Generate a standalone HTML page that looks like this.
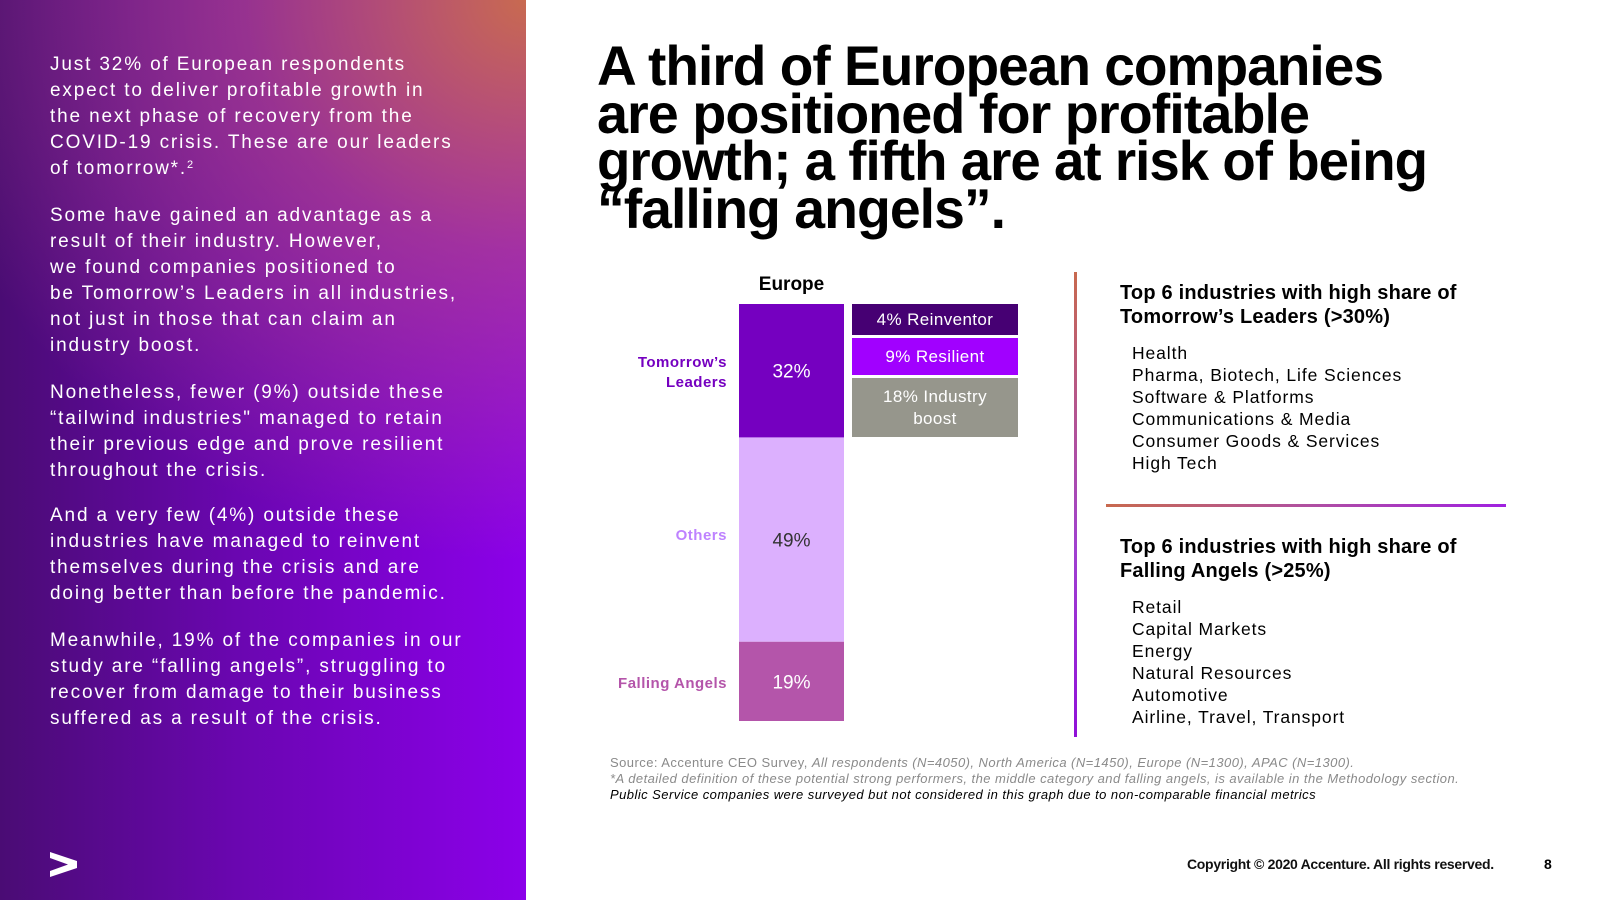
<!DOCTYPE html>
<html><head><meta charset="utf-8">
<style>
*{margin:0;padding:0;box-sizing:border-box}
body{width:1600px;height:900px;position:relative;overflow:hidden;background:#fff;font-family:"Liberation Sans",sans-serif}
#panel{position:absolute;left:0;top:0;width:526px;height:900px;
background:radial-gradient(ellipse 620px 560px at 100% 0%,rgba(200,106,80,1) 0%,rgba(180,80,120,0.6) 45%,rgba(160,40,200,0) 100%),
linear-gradient(to right,#4a0c74 0%,#6a06b0 45%,#8c00ea 100%);}
.lt{position:absolute;left:50px;color:#fff;font-size:19px;letter-spacing:1.85px;line-height:26px;z-index:2;white-space:nowrap}
.lt sup{font-size:11px;line-height:0;vertical-align:6px}
.title{position:absolute;left:597px;font-weight:bold;font-size:56px;color:#000;white-space:nowrap;transform-origin:left center;line-height:56px;letter-spacing:-1px}
.abs{position:absolute;white-space:nowrap}
.lbl{position:absolute;right:873px;font-weight:bold;font-size:15px;text-align:right;line-height:20px;letter-spacing:0.5px}
.box{position:absolute;left:852px;width:166px;color:#fff;font-size:17px;text-align:center;display:flex;align-items:center;justify-content:center;line-height:22px;letter-spacing:0.4px}
.hd{position:absolute;left:1120px;font-weight:bold;font-size:20px;line-height:24px;letter-spacing:0.2px}
.li{position:absolute;left:1132px;font-size:17.5px;line-height:22px;letter-spacing:0.9px}
.src{position:absolute;left:610px;font-size:13px;letter-spacing:0.45px;color:#8a8a8a;white-space:nowrap}
</style></head><body>
<div id="panel"></div>
<div class="lt" style="top:52px">Just 32% of European respondents<br>expect to deliver profitable growth in<br>the next phase of recovery from the<br>COVID-19 crisis. These are our leaders<br>of tomorrow*.<sup>2</sup></div>
<div class="lt" style="top:203px">Some have gained an advantage as a<br>result of their industry. However,<br>we found companies positioned to<br>be Tomorrow’s Leaders in all industries,<br>not just in those that can claim an<br>industry boost.</div>
<div class="lt" style="top:380px">Nonetheless, fewer (9%) outside these<br>“tailwind industries" managed to retain<br>their previous edge and prove resilient<br>throughout the crisis.</div>
<div class="lt" style="top:503px">And a very few (4%) outside these<br>industries have managed to reinvent<br>themselves during the crisis and are<br>doing better than before the pandemic.</div>
<div class="lt" style="top:628px">Meanwhile, 19% of the companies in our<br>study are “falling angels”, struggling to<br>recover from damage to their business<br>suffered as a result of the crisis.</div>
<svg style="position:absolute;left:50px;top:852px;z-index:2" width="27" height="25"><polygon points="0,0 27,9 27,16 0,25 0,19 18,12.5 0,6" fill="#fff"/></svg>

<div class="title" style="top:38px" data-w="786">A third of European companies</div>
<div class="title" style="top:86px" data-w="712">are positioned for profitable</div>
<div class="title" style="top:133px" data-w="830">growth; a fifth are at risk of being</div>
<div class="title" style="top:181px" data-w="408">“falling angels”.</div>

<div class="abs" style="left:739px;width:105px;top:274px;text-align:center;font-weight:bold;font-size:19px">Europe</div>
<svg id="chart" style="position:absolute;left:0;top:0" width="1600" height="900"></svg>
<div class="lbl" style="top:353px;color:#7500c0">Tomorrow’s<br>Leaders</div>
<div class="lbl" style="top:526px;color:#be82ff">Others</div>
<div class="lbl" style="top:674px;color:#b455aa">Falling Angels</div>
<div class="box" style="top:304px;height:31px;background:#460073">4% Reinventor</div>
<div class="box" style="top:338px;height:37px;background:#a100ff">9% Resilient</div>
<div class="box" style="top:378px;height:59px;background:#96968c">18% Industry<br>boost</div>

<div class="abs" style="left:1074px;top:272px;width:3px;height:465px;background:linear-gradient(#c8694e,#a040d0 60%,#9010d8)"></div>
<div class="abs" style="left:1106px;top:504px;width:400px;height:3px;background:linear-gradient(to right,#c8694e,#b050a0 50%,#a020e0)"></div>
<div class="hd" style="top:281px">Top 6 industries with high share of<br>Tomorrow’s Leaders (&gt;30%)</div>
<div class="li" style="top:342px">Health<br>Pharma, Biotech, Life Sciences<br>Software &amp; Platforms<br>Communications &amp; Media<br>Consumer Goods &amp; Services<br>High Tech</div>
<div class="hd" style="top:535px">Top 6 industries with high share of<br>Falling Angels (&gt;25%)</div>
<div class="li" style="top:596px">Retail<br>Capital Markets<br>Energy<br>Natural Resources<br>Automotive<br>Airline, Travel, Transport</div>

<div class="src" style="top:755px">Source: Accenture CEO Survey, <i>All respondents (N=4050), North America (N=1450), Europe (N=1300), APAC (N=1300).</i></div>
<div class="src" style="top:771px"><i>*A detailed definition of these potential strong performers, the middle category and falling angels, is available in the Methodology section.</i></div>
<div class="src" style="top:787px;color:#000"><i>Public Service companies were surveyed but not considered in this graph due to non-comparable financial metrics</i></div>
<div class="abs" style="left:1187px;top:856px;font-size:14px;font-weight:bold;letter-spacing:-0.3px;color:#111">Copyright © 2020 Accenture. All rights reserved.</div>
<div class="abs" style="left:1544px;top:856px;font-size:14px;font-weight:bold">8</div>

<script>
const categories=["Tomorrow's Leaders","Others","Falling Angels"];
const values=[32,49,19];
const valueLabels=["32%","49%","19%"];
const colors=["#7500c0","#dcb0fe","#b455aa"];
const textColors=["#fff","#333","#fff"];
const barX=739,barW=105,barTop=304,barH=417;
const total=values.reduce((a,b)=>a+b,0);
function yScale(v){return barTop+v/total*barH;}
const svg=document.getElementById('chart');
const NS="http://www.w3.org/2000/svg";
let cum=0;
values.forEach((v,i)=>{
  const y0=yScale(cum),y1=yScale(cum+v);
  const r=document.createElementNS(NS,'rect');
  r.setAttribute('x',barX);r.setAttribute('y',y0);r.setAttribute('width',barW);r.setAttribute('height',y1-y0);r.setAttribute('fill',colors[i]);
  
  
  svg.appendChild(r);
  const t=document.createElementNS(NS,'text');
  t.setAttribute('x',barX+barW/2);t.setAttribute('y',(y0+y1)/2+7);t.setAttribute('text-anchor','middle');
  t.setAttribute('font-family','Liberation Sans, sans-serif');t.setAttribute('font-size','19');t.setAttribute('fill',textColors[i]);
  t.textContent=valueLabels[i];
  
  
  svg.appendChild(t);
  cum+=v;
});
document.querySelectorAll('.title').forEach(el=>{
  const w=el.getBoundingClientRect().width;const tw=+el.dataset.w;
  el.style.transform='scaleX('+(tw/w)+')';
});
</script>
</body></html>
